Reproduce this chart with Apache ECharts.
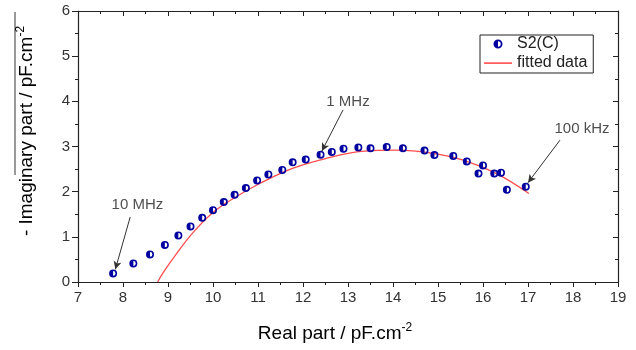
<!DOCTYPE html>
<html>
<head>
<meta charset="utf-8">
<script src="https://cdn.jsdelivr.net/npm/echarts@6/dist/echarts.min.js"></script>
<style>html,body{margin:0;padding:0;background:#fff;}#c{width:636px;height:350px;}</style>
</head>
<body>
<div id="c"></div>
<script>
// measured points S2(C)
const realPart = [7.78, 8.23, 8.6, 8.93, 9.23, 9.5, 9.76, 10.0, 10.24, 10.48, 10.73, 10.98, 11.23, 11.54, 11.77, 12.06, 12.39, 12.64, 12.9, 13.23, 13.5, 13.86, 14.22, 14.7, 14.92, 15.34, 15.64, 16.0, 15.9, 16.25, 16.4, 16.53, 16.95];
const imagPart = [0.19, 0.41, 0.61, 0.82, 1.03, 1.23, 1.42, 1.59, 1.77, 1.93, 2.08, 2.25, 2.38, 2.48, 2.65, 2.71, 2.82, 2.88, 2.95, 2.98, 2.96, 2.99, 2.96, 2.91, 2.81, 2.79, 2.67, 2.58, 2.40, 2.40, 2.42, 2.04, 2.11];
// fitted curve
const fitReal = [8.77, 8.9, 9.19, 9.56, 10.0, 10.45, 11.04, 11.78, 12.53, 13.3, 14.08, 14.82, 15.56, 16.3, 17.02];
const fitImag = [0, 0.22, 0.63, 1.1, 1.54, 1.85, 2.18, 2.52, 2.74, 2.89, 2.92, 2.86, 2.70, 2.40, 1.96];
// annotations: label text, label position, arrow start, arrow end
const annText = ['10 MHz', '1 MHz', '100 kHz'];
const annLabelPos = [[8.32, 1.7], [13.0, 3.98], [18.2, 3.38]];
const annFrom = [[8.16, 1.44], [12.89, 3.81], [17.71, 3.14]];
const annTo = [[7.83, 0.28], [12.42, 2.9], [17.0, 2.2]];
const xTicks = [7, 8, 9, 10, 11, 12, 13, 14, 15, 16, 17, 18, 19];
const yTicks = [0, 1, 2, 3, 4, 5, 6];

const chart = echarts.init(document.getElementById('c'), null, {renderer: 'canvas'});
const FONT = 'Liberation Sans, Arial, sans-serif';
const halfDot = 'path://M0,-10A10,10 0 0,0 0,10A10,10 0 0,0 0,-10Z M0,-6A6,6 0 0,1 0,6Z';
const lineIcon = 'path://M0,0L0,0M0,3.8L28,3.8L28,5.4L0,5.4ZM28,9L28,9';
const axisCol = '#222';
const nameRich = {
  a: {fontFamily: FONT, fontSize: 19, color: '#111'},
  s: {fontFamily: FONT, fontSize: 12, color: '#111', verticalAlign: 'top', padding: [0, 0, 12, 0]}
};

const baseX = {
  type: 'value', min: xTicks[0], max: xTicks[xTicks.length - 1], interval: 1,
  axisLine: {show: true, onZero: false, lineStyle: {color: axisCol, width: 1.2}},
  splitLine: {show: false},
  minorTick: {show: true, splitNumber: 2, length: 3, lineStyle: {color: axisCol}},
};
const baseY = {
  type: 'value', min: yTicks[0], max: yTicks[yTicks.length - 1], interval: 1,
  axisLine: {show: true, onZero: false, lineStyle: {color: axisCol, width: 1.2}},
  splitLine: {show: false},
  minorTick: {show: true, splitNumber: 2, length: 3, lineStyle: {color: axisCol}},
};

chart.setOption({
  animation: false,
  backgroundColor: '#fff',
  grid: {left: 78, right: 18, top: 11, bottom: 68},
  xAxis: [
    Object.assign({}, baseX, {
      position: 'bottom',
      axisTick: {show: true, inside: false, length: 5, lineStyle: {color: axisCol}},
      axisLabel: {show: true, color: '#333', fontFamily: FONT, fontSize: 15, margin: 8}
    }),
    Object.assign({}, baseX, {
      position: 'top',
      axisTick: {show: true, inside: true, length: 5, lineStyle: {color: axisCol}},
      axisLabel: {show: false}
    })
  ],
  yAxis: [
    Object.assign({}, baseY, {
      position: 'left',
      axisTick: {show: true, inside: false, length: 6, lineStyle: {color: axisCol}},
      axisLabel: {show: true, color: '#333', fontFamily: FONT, fontSize: 15, margin: 8}
    }),
    Object.assign({}, baseY, {
      position: 'right',
      axisTick: {show: true, inside: true, length: 5, lineStyle: {color: axisCol}},
      axisLabel: {show: false}
    })
  ],
  legend: {
    data: [{name: 'S2(C)', icon: halfDot}, {name: 'fitted data', icon: lineIcon}],
    orient: 'vertical', left: 480, top: 35,
    itemWidth: 28, itemHeight: 9, itemGap: 3,
    padding: [1, 6, 2, 4],
    borderColor: '#222', borderWidth: 1, borderRadius: 0,
    textStyle: {fontFamily: FONT, fontSize: 16, color: '#222'}
  },
  graphic: [
    {type: 'line', shape: {x1: 15, y1: 12, x2: 15, y2: 175}, style: {stroke: '#333', lineWidth: 1}},
    {type: 'text', x: 27, y: 131, rotation: Math.PI / 2,
     style: {text: '{a|- Imaginary part / pF.cm}{s|-2}', rich: nameRich, align: 'center', verticalAlign: 'middle'}},
    {type: 'text', x: 335, y: 334,
     style: {text: '{a|Real part / pF.cm}{s|-2}', rich: nameRich, align: 'center', verticalAlign: 'middle'}}
  ],
  series: [
    {
      name: 'fitted data', type: 'line', xAxisIndex: 0, yAxisIndex: 0,
      data: fitReal.map((x, i) => [x, fitImag[i]]),
      smooth: 0.4, symbol: 'none', showSymbol: false,
      lineStyle: {color: '#ff4d4d', width: 1.3}, itemStyle: {color: '#ff4d4d'}, z: 2
    },
    {
      name: 'S2(C)', type: 'scatter', xAxisIndex: 0, yAxisIndex: 0,
      data: realPart.map((x, i) => [x, imagPart[i]]),
      symbol: halfDot, symbolSize: 8,
      itemStyle: {color: '#0000a0', opacity: 1}, z: 3
    },
    {
      name: 'ann', type: 'scatter', xAxisIndex: 0, yAxisIndex: 0,
      data: annLabelPos.map((p, i) => ({value: p, name: annText[i]})),
      symbolSize: 0, silent: true,
      label: {show: true, position: 'inside', formatter: '{b}', fontFamily: FONT, fontSize: 15, color: '#222'},
      markLine: {
        silent: true, symbol: ['none', 'arrow'], symbolSize: [6, 8],
        label: {show: false},
        lineStyle: {color: '#333', width: 1, type: 'solid'},
        data: annFrom.map((f, i) => [{coord: f}, {coord: annTo[i]}])
      },
      z: 4
    }
  ]
});
</script>
</body>
</html>
